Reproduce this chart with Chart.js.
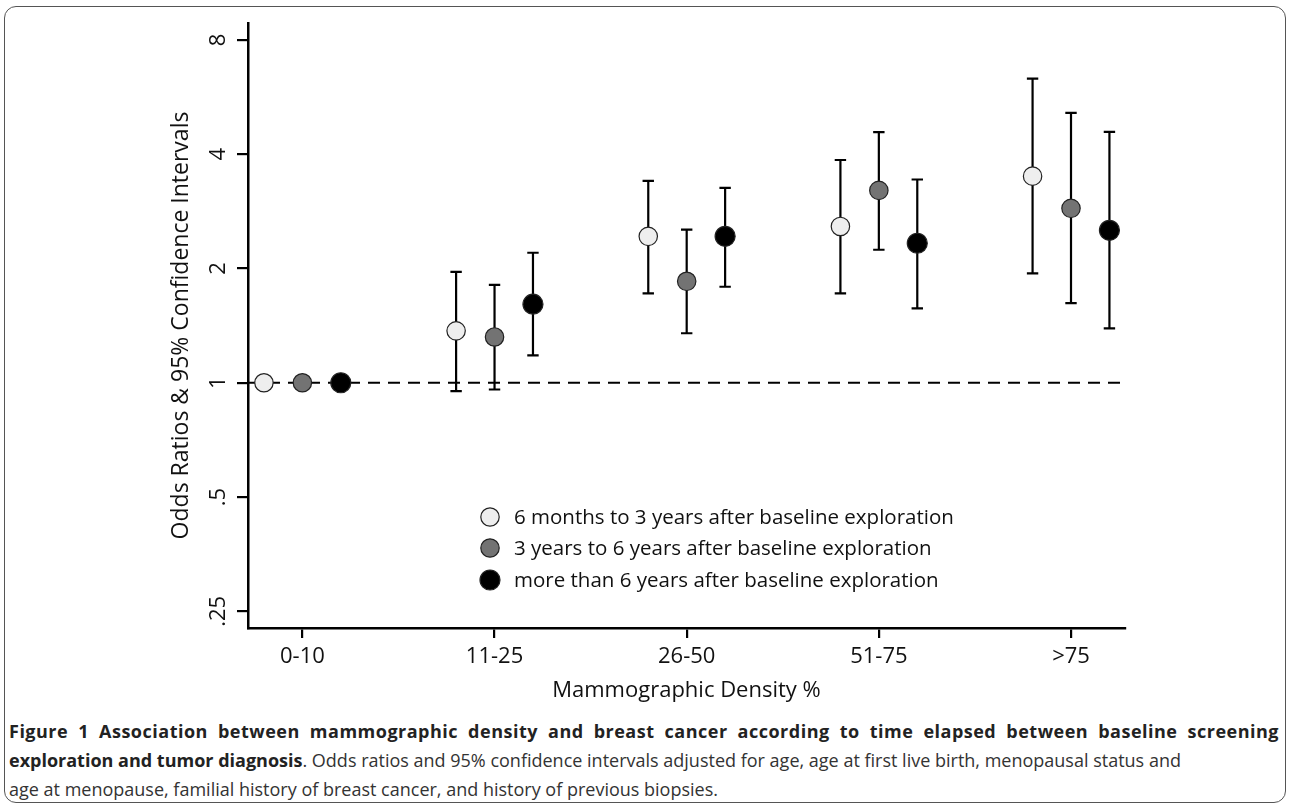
<!DOCTYPE html>
<html><head><meta charset="utf-8">
<script src="https://cdn.jsdelivr.net/npm/chart.js@4"></script>
<style>
html,body{margin:0;padding:0;background:#fff;width:1290px;height:806px;overflow:hidden;}
#frame{position:absolute;left:4px;top:6px;width:1282px;height:797px;border:1.5px solid #555;border-radius:12px;box-sizing:border-box;}
#wrap{position:absolute;left:0;top:0;width:1290px;height:715px;}
#caption{position:absolute;left:9px;top:717px;width:1270px;font-family:"Open Sans";font-size:18px;line-height:29px;color:#333;}
#caption b{font-weight:700;color:#222;}
.l1{text-align:justify;text-align-last:justify;letter-spacing:0.5px;}
</style></head>
<body>
<div id="frame"></div>
<div id="wrap"><canvas id="c"></canvas></div>
<div id="caption">
<div class="l1"><b>Figure 1 Association between mammographic density and breast cancer according to time elapsed between baseline screening</b></div>
<div><b>exploration and tumor diagnosis</b>. Odds ratios and 95% confidence intervals adjusted for age, age at first live birth, menopausal status and</div>
<div>age at menopause, familial history of breast cancer, and history of previous biopsies.</div>
</div>
<script>
// ---- data ----
const categories = ['0-10', '11-25', '26-50', '51-75', '>75'];
const seriesNames = [
  '6 months to 3 years after baseline exploration',
  '3 years to 6 years after baseline exploration',
  'more than 6 years after baseline exploration'
];
const seriesOffsets = [-0.2, 0, 0.2];
const or6m3y  = [1, 1.37, 2.43, 2.58, 3.50];
const lo6m3y  = [null, 0.95, 1.72, 1.72, 1.94];
const hi6m3y  = [null, 1.96, 3.40, 3.86, 6.32];
const or3y6y  = [1, 1.32, 1.85, 3.21, 2.88];
const lo3y6y  = [null, 0.96, 1.35, 2.24, 1.62];
const hi3y6y  = [null, 1.81, 2.53, 4.57, 5.14];
const or6yp   = [1, 1.61, 2.43, 2.33, 2.52];
const lo6yp   = [null, 1.18, 1.79, 1.57, 1.39];
const hi6yp   = [null, 2.20, 3.26, 3.43, 4.58];
const yTickValues = [0.25, 0.5, 1, 2, 4, 8];
const yTickLabels = ['.25', '.5', '1', '2', '4', '8'];
const refValue = 1;

const fills = ['#eeeeee', '#737373', '#000000'];
const radii = [9.2, 9.2, 10];
const ors = [or6m3y, or3y6y, or6yp];
const los = [lo6m3y, lo3y6y, lo6yp];
const his = [hi6m3y, hi3y6y, hi6yp];

const datasets = ors.map((arr, s) => ({
  label: seriesNames[s],
  data: arr.map((v, i) => ({x: i + seriesOffsets[s], y: v, lo: los[s][i], hi: his[s][i]})),
  backgroundColor: fills[s],
  borderColor: '#222',
  borderWidth: 1.2,
  pointRadius: radii[s],
  pointHoverRadius: radii[s],
  showLine: false
}));

const FONT = '"Open Sans", "DejaVu Sans", sans-serif';

const extras = {
  id: 'extras',
  beforeDatasetsDraw(chart) {
    const {ctx, chartArea, scales: {x, y}} = chart;
    ctx.save();
    const ry = y.getPixelForValue(refValue);
    ctx.strokeStyle = '#000';
    ctx.lineWidth = 2;
    ctx.setLineDash([12, 8]);
    ctx.beginPath();
    ctx.moveTo(chartArea.left, ry);
    ctx.lineTo(chartArea.right, ry);
    ctx.stroke();
    ctx.setLineDash([]);
    chart.data.datasets.forEach(ds => {
      ds.data.forEach(p => {
        if (p.lo == null || p.hi == null) return;
        const px = x.getPixelForValue(p.x);
        const pl = y.getPixelForValue(p.lo);
        const ph = y.getPixelForValue(p.hi);
        ctx.lineWidth = 2.2;
        ctx.beginPath();
        ctx.moveTo(px, pl); ctx.lineTo(px, ph);
        ctx.moveTo(px - 5.7, pl); ctx.lineTo(px + 5.7, pl);
        ctx.moveTo(px - 5.7, ph); ctx.lineTo(px + 5.7, ph);
        ctx.stroke();
      });
    });
    ctx.restore();
  },
  afterDraw(chart) {
    const {ctx, scales: {y}} = chart;
    ctx.save();
    ctx.fillStyle = '#111';
    ctx.font = '22px ' + FONT;
    ctx.textAlign = 'center';
    ctx.textBaseline = 'middle';
    yTickValues.forEach((v, i) => {
      const py = y.getPixelForValue(v);
      ctx.save();
      ctx.translate(219, py);
      ctx.rotate(-Math.PI / 2);
      ctx.fillText(yTickLabels[i], 0, 0);
      ctx.restore();
    });
    const lx = 490, ltx = 514, lys = [517, 548, 580];
    ctx.font = '20.5px ' + FONT;
    ctx.textAlign = 'left';
    seriesNames.forEach((n, s) => {
      ctx.beginPath();
      ctx.arc(lx, lys[s], radii[s], 0, Math.PI * 2);
      ctx.fillStyle = fills[s];
      ctx.fill();
      ctx.lineWidth = 1.2;
      ctx.strokeStyle = '#222';
      ctx.stroke();
      ctx.fillStyle = '#111';
      ctx.fillText(n, ltx, lys[s] + 1);
    });
    ctx.restore();
  }
};

new Chart(document.getElementById('c'), {
  type: 'scatter',
  data: {datasets},
  options: {
    responsive: true,
    maintainAspectRatio: false,
    animation: false,
    events: [],
    layout: {padding: {left: 160, top: 23, right: 165, bottom: 0}},
    plugins: {legend: {display: false}, tooltip: {enabled: false}},
    scales: {
      x: {
        type: 'linear',
        bounds: 'data',
        min: -0.283,
        max: 4.281,
        afterBuildTicks: s => { s.ticks = categories.map((c, i) => ({value: i})); },
        afterFit: s => { s.height = 87; },
        ticks: {
          callback: v => categories[Math.round(v)],
          font: {family: FONT, size: 22},
          color: '#111',
          padding: 6,
          maxRotation: 0,
          autoSkip: false
        },
        grid: {display: true, drawOnChartArea: false, drawTicks: true, tickLength: 10, color: '#000', lineWidth: 2.2},
        border: {display: true, color: '#000', width: 2.5},
        title: {display: true, text: 'Mammographic Density %', font: {family: FONT, size: 22}, color: '#111', padding: {top: 0, bottom: 11}}
      },
      y: {
        type: 'logarithmic',
        bounds: 'data',
        min: 0.226,
        max: 8.86,
        afterBuildTicks: s => { s.ticks = yTickValues.map(v => ({value: v})); },
        afterFit: s => { s.width = 88; },
        ticks: {display: false},
        grid: {display: true, drawOnChartArea: false, drawTicks: true, tickLength: 11, color: '#000', lineWidth: 2.2},
        border: {display: true, color: '#000', width: 2.5},
        title: {display: true, text: 'Odds Ratios & 95% Confidence Intervals', font: {family: FONT, size: 23}, color: '#111', padding: {top: 8, bottom: 0}}
      }
    }
  },
  plugins: [extras]
});
</script>
</body></html>
